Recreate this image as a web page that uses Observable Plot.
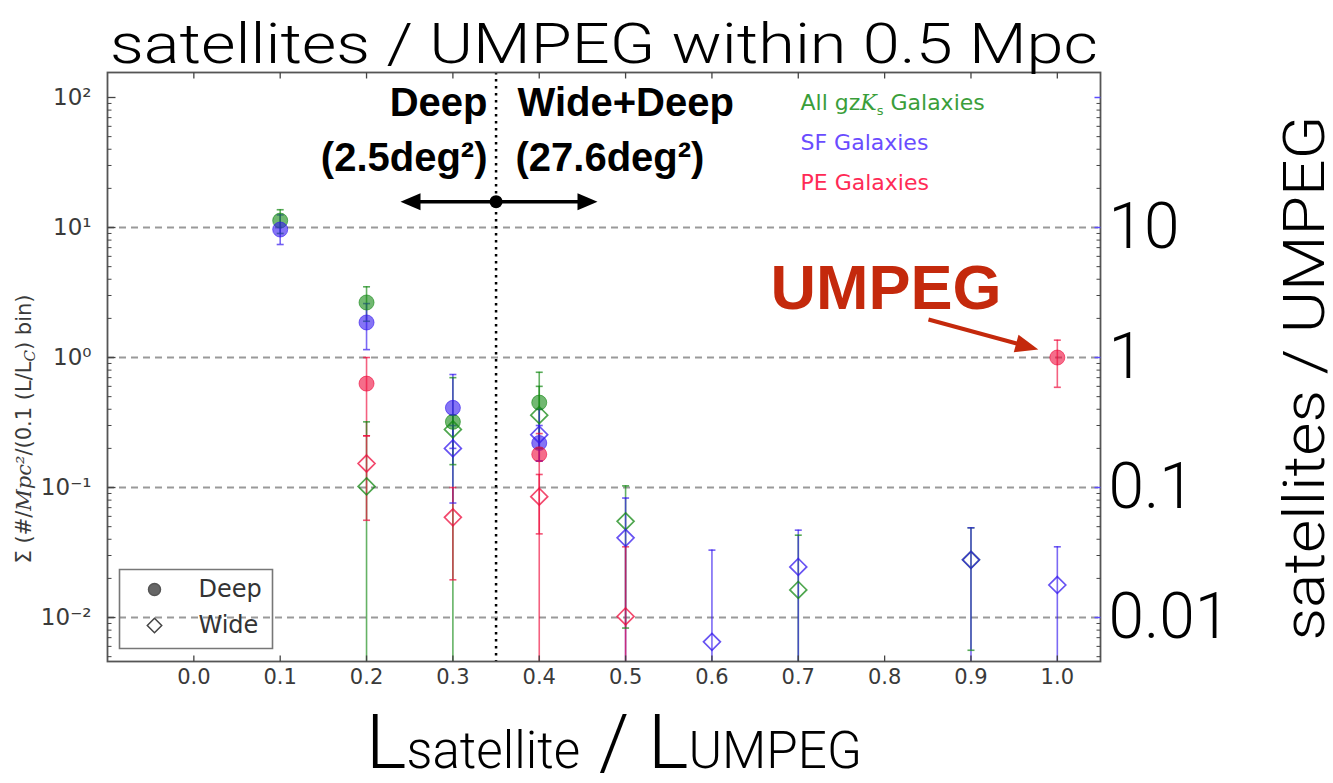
<!DOCTYPE html>
<html>
<head>
<meta charset="utf-8">
<script src="https://cdn.jsdelivr.net/npm/d3@7"></script>
<script src="https://cdn.jsdelivr.net/npm/@observablehq/plot@0.6"></script>
<style>
html, body { margin: 0; padding: 0; background: #fff; overflow: hidden; }
</style>
</head>
<body>
<div id="chart"></div>
<script>
// ---------------- data ----------------
const samples = ["All", "SF", "PE"];
const sampleLabels = ["All gzKs Galaxies", "SF Galaxies", "PE Galaxies"];
const sampleColors = ["#138813", "#3418ee", "#ee0c3c"];
const sampleTextColors = ["#3a9e3a", "#6a4cff", "#ff2a55"];

// Deep survey (filled circles)
const deepSample = ["All", "All", "All", "All", "SF", "SF", "SF", "SF", "PE", "PE", "PE"];
const deepX  = [0.1, 0.2, 0.3, 0.4, 0.1, 0.2, 0.3, 0.4, 0.2, 0.4, 1.0];
const deepY  = [11.3, 2.65, 0.32, 0.45, 9.65, 1.86, 0.41, 0.22, 0.63, 0.18, 1.0];
const deepLo = [9.0, 1.9, 0.15, 0.2, 7.4, 1.15, 0.2, 0.16, 0.25, 0.001, 0.59];
const deepHi = [13.7, 3.5, 0.70, 0.77, 12.5, 2.6, 0.74, 0.30, 1.0, 0.26, 1.36];

// Wide survey (open diamonds); 0.001 = lower bound falls off the axis
const wideSample = ["All", "All", "All", "All", "All", "All",
                    "SF", "SF", "SF", "SF", "SF", "SF", "SF",
                    "PE", "PE", "PE", "PE"];
const wideX  = [0.2, 0.3, 0.4, 0.5, 0.7, 0.9,
                0.3, 0.4, 0.5, 0.6, 0.7, 0.9, 1.0,
                0.2, 0.3, 0.4, 0.5];
const wideY  = [0.102, 0.28, 0.36, 0.055, 0.0163, 0.0278,
                0.20, 0.255, 0.041, 0.0065, 0.0245, 0.0278, 0.0178,
                0.153, 0.059, 0.085, 0.0102];
const wideLo = [0.001, 0.001, 0.2, 0.0083, 0.001, 0.0056,
                0.076, 0.16, 0.001, 0.001, 0.001, 0.001, 0.001,
                0.056, 0.0195, 0.044, 0.001];
const wideHi = [0.32, 0.36, 0.6, 0.103, 0.043, 0.049,
                0.30, 0.40, 0.083, 0.033, 0.047, 0.049, 0.035,
                0.25, 0.10, 0.126, 0.035];

// ticks
const xTicks = [0.0, 0.1, 0.2, 0.3, 0.4, 0.5, 0.6, 0.7, 0.8, 0.9, 1.0];
const leftTickValues = [0.01, 0.1, 1, 10, 100];
const leftTickLabels = ["10\u207B\u00B2", "10\u207B\u00B9", "10\u2070", "10\u00B9", "10\u00B2"];
const rightTickValues = [0.01, 0.1, 1, 10];
const rightTickLabels = ["0.01", "0.1", "1", "10"];

// annotations
const titleText = "satellites / UMPEG within 0.5 Mpc";
const xTitleText = "Lsatellite / LUMPEG";
const rightTitleText = "satellites / UMPEG";
const yTitleText = "Σ (#/Mpc²/(0.1 (L/LC) bin)";
const dividerX = 0.35;
const surveyArrowY = 15.8;
const surveyArrowEnds = [0.2393, 0.4675];
const leftNotes = ["Deep", "(2.5deg²)"];
const rightNotes = ["Wide+Deep", "(27.6deg²)"];
const leftNoteX = [0.3401, 0.3401];
const rightNoteX = [0.3748, 0.3725];
const noteY = [90.7, 34.2];
const umpegLabel = "UMPEG";
const umpegLabelPos = {x: 0.6678, y: 3.39};
const umpegArrow = {x1: 0.8508, y1: 1.96, x2: 0.9614, y2: 1.237, tipX: 0.978, tipY: 1.152};

// ---------------- build ----------------
const deep = deepX.map((x, i) => ({x, y: deepY[i], lo: deepLo[i], hi: deepHi[i], s: deepSample[i]}));
const wide = wideX.map((x, i) => ({x, y: wideY[i], lo: wideLo[i], hi: wideHi[i], s: wideSample[i]}));
const xDomain = [-0.1, 1.05];
const yDomain = [0.00459, 155.7];

const minorTicks = [];
for (let e = -3; e <= 2; e++) for (let m = 2; m <= 9; m++) {
  const v = m * Math.pow(10, e);
  if (v > yDomain[0] && v < yDomain[1]) minorTicks.push(v);
}

const hLine = (a, b) => ({draw(c) { c.moveTo(a, 0); c.lineTo(b, 0); }});
const vLine = (a, b) => ({draw(c) { c.moveTo(0, a); c.lineTo(0, b); }});
const capSym = hLine(-3.5, 3.5);
const headSym = {draw(c) { c.moveTo(0, 0); c.lineTo(-20, -8.5); c.lineTo(-20, 8.5); c.closePath(); }};
const bigHeadSym = {draw(c) { c.moveTo(0, 0); c.lineTo(-23, -9); c.lineTo(-23, 9); c.closePath(); }};
const boxSym = {draw(c) { c.rect(0, 0, 153, 79); }};

const caps = [...deep, ...wide].flatMap(d => [
  {x: d.x, y: d.hi, s: d.s},
  ...(d.lo > yDomain[0] ? [{x: d.x, y: d.lo, s: d.s}] : [])
]);

const leftLabelMap = new Map(leftTickValues.map((v, i) => [v, leftTickLabels[i]]));
const rightLabelMap = new Map(rightTickValues.map((v, i) => [v, rightTickLabels[i]]));

const axisColor = "#444";
const light = "Roboto, 'Open Sans', sans-serif";
const bold = "'Liberation Sans', Arial, sans-serif";

const marks = [
  Plot.ruleY(rightTickValues, {stroke: "#9a9a9a", strokeWidth: 2, strokeDasharray: "7,5"}),
  Plot.ruleX([dividerX], {stroke: "#000", strokeWidth: 2.5, strokeDasharray: "2.5,4.5"}),
  Plot.ruleX(deep, {x: "x", y1: "lo", y2: "hi", stroke: "s", strokeWidth: 1.6, strokeOpacity: 0.65, clip: true}),
  Plot.ruleX(wide, {x: "x", y1: "lo", y2: "hi", stroke: "s", strokeWidth: 1.6, strokeOpacity: 0.65, clip: true}),
  Plot.dot(caps, {x: "x", y: "y", symbol: capSym, stroke: "s", strokeWidth: 1.6, strokeOpacity: 0.7, fill: "none"}),
  Plot.dot(deep, {x: "x", y: "y", r: 7.5, symbol: "circle", fill: "s", fillOpacity: 0.6, stroke: "s", strokeOpacity: 0.6, strokeWidth: 1}),
  Plot.dot(wide, {x: "x", y: "y", r: 7.6, symbol: "diamond2", fill: "none", stroke: "s", strokeWidth: 1.7, strokeOpacity: 0.75}),
  Plot.frame({stroke: "#555", strokeWidth: 1.8}),
  Plot.dot(xTicks, {x: d => d, frameAnchor: "bottom", symbol: vLine(0, -6), stroke: axisColor, strokeWidth: 1.3}),
  Plot.dot(xTicks, {x: d => d, frameAnchor: "top", symbol: vLine(0, 6), stroke: axisColor, strokeWidth: 1.3}),
  Plot.dot(leftTickValues, {y: d => d, frameAnchor: "left", symbol: hLine(0, 8), stroke: axisColor, strokeWidth: 1.3}),
  Plot.dot(minorTicks, {y: d => d, frameAnchor: "left", symbol: hLine(0, 4), stroke: axisColor, strokeWidth: 1}),
  Plot.dot(leftTickValues, {y: d => d, frameAnchor: "right", symbol: hLine(-6, 0), stroke: "#5b4cff", strokeWidth: 1.5}),
  Plot.dot(minorTicks, {y: d => d, frameAnchor: "right", symbol: hLine(-4, 0), stroke: axisColor, strokeWidth: 1}),
  Plot.axisX(xTicks, {anchor: "bottom", tickSize: 0, tickPadding: 8, tickFormat: d3.format(".1f"), fontSize: 21, color: "#3a3a3a", label: null}),
  Plot.axisY(leftTickValues, {anchor: "left", tickSize: 0, tickPadding: 16, tickFormat: d => leftLabelMap.get(d), fontSize: 23, color: "#3a3a3a", label: null}),
  Plot.axisY(rightTickValues, {anchor: "right", tickSize: 0, tickPadding: 8, tickFormat: d => rightLabelMap.get(d), fontSize: 64, fontFamily: light, fontWeight: 300, color: "#000", label: null}),
  Plot.text([titleText], {frameAnchor: "top", dy: -10, textAnchor: "middle", lineAnchor: "bottom", fontSize: 55, fontFamily: light, fontWeight: 300, fill: "#000"}),
  Plot.text([xTitleText], {frameAnchor: "bottom", dx: 10, dy: 106, textAnchor: "middle", lineAnchor: "bottom", fontSize: 84, fontFamily: light, fontWeight: 300, fill: "#000"}),
  Plot.text([rightTitleText], {frameAnchor: "right", dx: 223, dy: 11, rotate: -90, textAnchor: "middle", lineAnchor: "bottom", fontSize: 57, fontFamily: light, fontWeight: 300, fill: "#000"}),
  Plot.text([yTitleText], {frameAnchor: "left", dx: -83, dy: 62, rotate: -90, textAnchor: "middle", lineAnchor: "middle", fontSize: 21, fill: "#3a3a3a"}),
  Plot.link([0], {x1: () => surveyArrowEnds[0] + 0.012, x2: () => surveyArrowEnds[1] - 0.012, y1: () => surveyArrowY, y2: () => surveyArrowY, stroke: "#000", strokeWidth: 3.5}),
  Plot.dot([surveyArrowEnds[0]], {x: d => d, y: () => surveyArrowY, symbol: headSym, rotate: 180, fill: "#000", stroke: "none"}),
  Plot.dot([surveyArrowEnds[1]], {x: d => d, y: () => surveyArrowY, symbol: headSym, rotate: 0, fill: "#000", stroke: "none"}),
  Plot.dot([dividerX], {x: d => d, y: () => surveyArrowY, r: 6.5, fill: "#000", stroke: "none"}),
  Plot.text(leftNotes, {x: (d, i) => leftNoteX[i], y: (d, i) => noteY[i], textAnchor: "end", lineAnchor: "middle", fontSize: 40, fontWeight: "bold", fontFamily: bold, fill: "#000"}),
  Plot.text(rightNotes, {x: (d, i) => rightNoteX[i], y: (d, i) => noteY[i], textAnchor: "start", lineAnchor: "middle", fontSize: 40, fontWeight: "bold", fontFamily: bold, fill: "#000"}),
  Plot.text([umpegLabel], {x: () => umpegLabelPos.x, y: () => umpegLabelPos.y, textAnchor: "start", lineAnchor: "middle", fontSize: 63, fontWeight: "bold", fontFamily: bold, fill: "#c4290c"}),
  Plot.link([0], {x1: () => umpegArrow.x1, y1: () => umpegArrow.y1, x2: () => umpegArrow.x2, y2: () => umpegArrow.y2, stroke: "#c4290c", strokeWidth: 4}),
  Plot.dot([0], {x: () => umpegArrow.tipX, y: () => umpegArrow.tipY, symbol: bigHeadSym, rotate: 15.3, fill: "#c4290c", stroke: "none"}),
  Plot.dot([0], {frameAnchor: "bottom-left", dx: 12, dy: -92, symbol: boxSym, fill: "none", stroke: "#777", strokeWidth: 1.6}),
  Plot.dot([0], {frameAnchor: "bottom-left", dx: 47, dy: -72, r: 6, fill: "#666", stroke: "#555"}),
  Plot.dot([0], {frameAnchor: "bottom-left", dx: 47, dy: -36, r: 6.5, symbol: "diamond2", fill: "none", stroke: "#444", strokeWidth: 1.5}),
  Plot.text(["Deep"], {frameAnchor: "bottom-left", dx: 91, dy: -72, textAnchor: "start", lineAnchor: "middle", fontSize: 24, fill: "#333"}),
  Plot.text(["Wide"], {frameAnchor: "bottom-left", dx: 91, dy: -36, textAnchor: "start", lineAnchor: "middle", fontSize: 24, fill: "#333"})
];
sampleLabels.forEach((lab, i) => {
  marks.push(Plot.text([lab], {frameAnchor: "top-left", dx: 693, dy: 30 + 40 * i, textAnchor: "start", lineAnchor: "middle", fontSize: 22, fill: sampleTextColors[i]}));
});

const chart = Plot.plot({
  width: 1333,
  height: 783,
  marginLeft: 107,
  marginRight: 233,
  marginTop: 72,
  marginBottom: 122,
  style: {fontFamily: "'DejaVu Sans', sans-serif", background: "#fff", overflow: "visible"},
  x: {domain: xDomain, axis: null},
  y: {type: "log", domain: yDomain, axis: null},
  color: {domain: samples, range: sampleColors},
  marks
});
document.getElementById("chart").appendChild(chart);

// ---------- rich text post-processing ----------
function textNodes(match) {
  return d3.select(chart).selectAll("text").filter(function() { return this.textContent === match; });
}
function rich(match, parts) {
  textNodes(match).each(function() {
    const t = d3.select(this);
    t.text(null);
    for (const p of parts) {
      const ts = t.append("tspan").text(p.t);
      for (const k in (p.a || {})) ts.attr(k, p.a[k]);
    }
  });
}
// fit a text element to a target width by scaling its font size
function fitWidth(match, target) {
  textNodes(match).each(function() {
    const len = this.getComputedTextLength();
    if (!len) return;
    const k = target / len;
    const base = parseFloat(this.getAttribute("font-size") || getComputedStyle(this).fontSize);
    this.setAttribute("font-size", base * k);
    this.querySelectorAll("tspan[font-size]").forEach(ts => ts.setAttribute("font-size", parseFloat(ts.getAttribute("font-size")) * k));
  });
}
textNodes(titleText).attr("textLength", 988).attr("lengthAdjust", "spacingAndGlyphs");
textNodes(rightTitleText).attr("textLength", 525).attr("lengthAdjust", "spacingAndGlyphs");
rich(xTitleText, [
  {t: "L", a: {"font-size": 84}},
  {t: "satellite", a: {"font-size": 56}},
  {t: " / ", a: {"font-size": 84}},
  {t: "L", a: {"font-size": 84}},
  {t: "UMPEG", a: {"font-size": 56}}
]);
fitWidth(xTitleText, 496);
rich(yTitleText, [
  {t: "Σ (#/"},
  {t: "Mpc", a: {"font-style": "italic", "font-family": "'DejaVu Serif', serif"}},
  {t: "²", a: {"font-style": "italic", "font-family": "'DejaVu Serif', serif"}},
  {t: "/(0.1 (L/L"},
  {t: "C", a: {"font-style": "italic", "font-family": "'DejaVu Serif', serif", "font-size": 15, dy: 4}},
  {t: ") bin)", a: {dy: -4}}
]);
rich(sampleLabels[0], [
  {t: "All gz"},
  {t: "K", a: {"font-style": "italic", "font-family": "'DejaVu Serif', serif"}},
  {t: "s", a: {"font-size": 13, dy: 5}},
  {t: " Galaxies", a: {dy: -5}}
]);
</script>
</body>
</html>
